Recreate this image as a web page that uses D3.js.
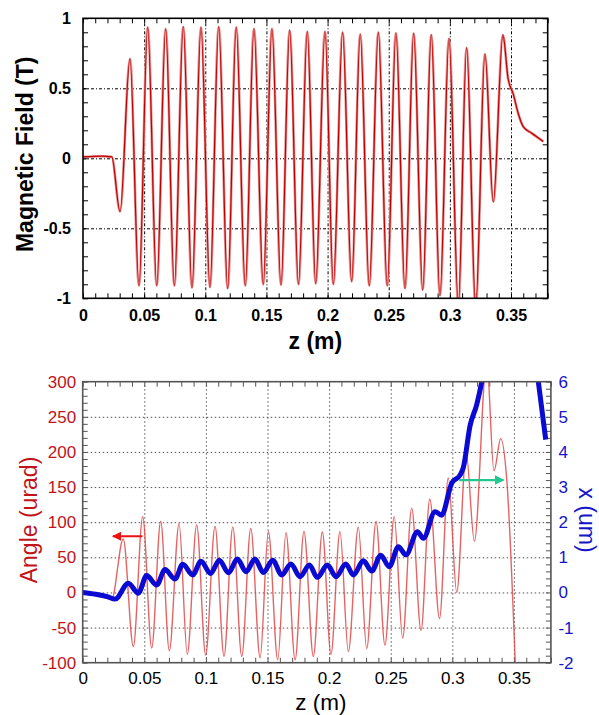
<!DOCTYPE html>
<html>
<head>
<meta charset="utf-8">
<script src="https://cdnjs.cloudflare.com/ajax/libs/d3/7.8.5/d3.min.js"></script>
<style>
  body { margin: 0; background: #fff; }
  svg { display: block; }
  text { font-family: "Liberation Sans", Arial, sans-serif; }
</style>
</head>
<body>
<div id="chart"></div>
<script>
// ---------------- data ----------------
// top panel: magnetic field (T) along z (m), extrema + tail
var fieldZ = [0, 0.015, 0.0235, 0.0303, 0.0384, 0.0458, 0.0529, 0.0603, 0.0676, 0.0747,
  0.0820, 0.0891, 0.0965, 0.1038, 0.1110, 0.1183, 0.1253, 0.1327, 0.1398, 0.1474,
  0.1545, 0.1619, 0.1690, 0.1762, 0.1834, 0.1903, 0.1979, 0.2047, 0.2123, 0.2197,
  0.2267, 0.2341, 0.2415, 0.2488, 0.2559, 0.2633, 0.2704, 0.2778, 0.2848, 0.2919,
  0.2993, 0.3069, 0.3137, 0.3211, 0.3287, 0.3355, 0.3434, 0.3476, 0.3518, 0.3559,
  0.3600, 0.3668, 0.3764];
var fieldB = [0.01, 0.015, 0.01, -0.38, 0.71, -0.91, 0.935, -0.91, 0.925, -0.91,
  0.94, -0.925, 0.935, -0.92, 0.94, -0.93, 0.935, -0.91, 0.925, -0.90,
  0.925, -0.905, 0.915, -0.90, 0.905, -0.895, 0.905, -0.90, 0.90, -0.88,
  0.885, -0.91, 0.90, -0.91, 0.895, -0.93, 0.893, -0.94, 0.883, -0.98,
  0.855, -1.04, 0.79, -1.06, 0.745, -0.31, 0.88, 0.57, 0.46, 0.32,
  0.226, 0.18, 0.12];

// bottom panel: angle (urad), red thin line
var angleZ = [0, 0.012, 0.0235, 0.0329, 0.0411, 0.0487, 0.0560, 0.0633, 0.0703, 0.0782,
  0.0849, 0.0925, 0.0998, 0.1074, 0.1147, 0.1218, 0.1291, 0.1364, 0.1440, 0.1507,
  0.1583, 0.1650, 0.1724, 0.1796, 0.1872, 0.1945, 0.2015, 0.2088, 0.2156, 0.2237,
  0.2305, 0.2381, 0.2453, 0.2528, 0.2597, 0.2670, 0.2746, 0.2817, 0.2896, 0.2967,
  0.3036, 0.3112, 0.3179, 0.3279, 0.3338, 0.3393, 0.3442, 0.3515];
var angleVal = [0, -4, -10, 76, -77, 108, -79, 101, -83, 98,
  -88, 96, -89, 94, -91, 93, -91, 91, -93, 87,
  -96, 85, -96, 87, -91, 86, -88, 87, -84, 93,
  -80, 101, -75, 108, -65, 120, -54, 133, -37, 163,
  0, 198, 73, 330, 173, 219, 160, -120];

// bottom panel: x (um), blue thick line (null = gap, line leaves the frame)
var posZ = [0, 0.0105, 0.02, 0.0263, 0.0370, 0.0452, 0.0519, 0.0600, 0.0668, 0.0749,
  0.0812, 0.0893, 0.0960, 0.1038, 0.1109, 0.1183, 0.1255, 0.1326, 0.1398, 0.1466,
  0.1542, 0.1615, 0.1690, 0.1764, 0.1840, 0.1904, 0.1986, 0.2056, 0.2135, 0.2197,
  0.2278, 0.2346, 0.2419, 0.2488, 0.2562, 0.2624, 0.2717, 0.2765, 0.2860, 0.2912,
  0.2995, 0.3062, 0.3089, 0.3144, 0.3198, 0.3239, 0.3265, 0.35, 0.3687, 0.3758];
var posUm = [0, -0.05, -0.12, -0.19, 0.26, -0.02, 0.48, 0.21, 0.65, 0.38,
  0.80, 0.50, 0.89, 0.54, 0.92, 0.56, 0.95, 0.59, 0.95, 0.57,
  0.92, 0.50, 0.81, 0.45, 0.78, 0.43, 0.78, 0.45, 0.81, 0.50,
  0.90, 0.61, 1.06, 0.73, 1.30, 1.07, 1.73, 1.54, 2.30, 2.20,
  3.11, 3.34, 3.55, 4.75, 5.35, 6.0, 6.5, null, 6.3, 4.35];

var zTicks = [0, 0.05, 0.1, 0.15, 0.2, 0.25, 0.3, 0.35];
var bTicks = [-1, -0.5, 0, 0.5, 1];
var angleTicks = [-100, -50, 0, 50, 100, 150, 200, 250, 300];
var umTicks = [-2, -1, 0, 1, 2, 3, 4, 5, 6];

// annotation arrows: [zFrom, zTo, level]
var redArrow = [0.0485, 0.0245, 80];     // angle axis
var greenArrow = [0.3055, 0.3415, 3.2];  // x axis

var svg = d3.select('#chart').append('svg')
  .attr('width', 599)
  .attr('height', 715);

var defs = svg.append('defs');

function inner(sel) {
  // tick marks only, no domain and no labels
  sel.select('.domain').remove();
  sel.selectAll('text').remove();
  return sel;
}

//////////////////////////////// TOP PANEL ////////////////////////////////
var p1 = { left: 83, top: 18.3, width: 464.7, height: 280 };
var x1 = d3.scaleLinear().domain([0, 0.38]).range([0, p1.width]);
var y1 = d3.scaleLinear().domain([-1, 1]).range([p1.height, 0]);
var g1 = svg.append('g').attr('transform', 'translate(' + p1.left + ',' + p1.top + ')');

defs.append('clipPath').attr('id', 'clip1')
  .append('rect').attr('width', p1.width).attr('height', p1.height);

// grid (dash-dot)
g1.append('g')
  .attr('transform', 'translate(0,' + p1.height + ')')
  .call(d3.axisBottom(x1).tickValues(zTicks.slice(1)).tickSize(-p1.height).tickFormat(''))
  .call(inner)
  .selectAll('line').attr('stroke', '#000').attr('stroke-dasharray', '3,2,1,2');
g1.append('g')
  .call(d3.axisLeft(y1).tickValues([-0.5, 0, 0.5]).tickSize(-p1.width).tickFormat(''))
  .call(inner)
  .selectAll('line').attr('stroke', '#000').attr('stroke-dasharray', '3,2,1,2');

// minor ticks
var zMinor = d3.range(0, 39).map(function (i) { return i / 100; });
var bMinor = d3.range(-10, 11).map(function (i) { return i / 10; });
g1.append('g').attr('transform', 'translate(0,' + p1.height + ')')
  .call(d3.axisBottom(x1).tickValues(zMinor).tickSize(-5)).call(inner);
g1.append('g')
  .call(d3.axisTop(x1).tickValues(zMinor).tickSize(-5)).call(inner);
g1.append('g')
  .call(d3.axisLeft(y1).tickValues(bMinor).tickSize(-5)).call(inner);
g1.append('g').attr('transform', 'translate(' + p1.width + ',0)')
  .call(d3.axisRight(y1).tickValues(bMinor).tickSize(-5)).call(inner);

// labelled axes
var ax1 = g1.append('g').attr('transform', 'translate(0,' + p1.height + ')')
  .call(d3.axisBottom(x1).tickValues(zTicks).tickSize(0).tickPadding(11.5).tickFormat(function (d) { return String(d); }));
var ay1 = g1.append('g')
  .call(d3.axisLeft(y1).tickValues(bTicks).tickSize(0).tickPadding(12).tickFormat(function (d) { return String(d); }));
[ax1, ay1].forEach(function (a) {
  a.select('.domain').remove();
  a.selectAll('text').attr('font-size', 16).attr('font-weight', 'bold').attr('fill', '#000')
    .attr('font-family', '"Liberation Sans", Arial, sans-serif');
});

// field line
var line1 = d3.line()
  .x(function (d) { return x1(d[0]); })
  .y(function (d) { return y1(d[1]); })
  .curve(d3.curveMonotoneX);

g1.append('path')
  .datum(d3.zip(fieldZ, fieldB))
  .attr('clip-path', 'url(#clip1)')
  .attr('fill', 'none')
  .attr('stroke', '#e58a8a')
  .attr('stroke-width', 2.6)
  .attr('d', line1);
g1.append('path')
  .datum(d3.zip(fieldZ, fieldB))
  .attr('clip-path', 'url(#clip1)')
  .attr('fill', 'none')
  .attr('stroke', '#c00000')
  .attr('stroke-width', 1.2)
  .attr('d', line1);

g1.append('rect')
  .attr('width', p1.width).attr('height', p1.height)
  .attr('fill', 'none').attr('stroke', '#000').attr('stroke-width', 1.6);

// titles
svg.append('text')
  .attr('x', p1.left + p1.width / 2).attr('y', 348.5)
  .attr('text-anchor', 'middle')
  .attr('font-size', 23).attr('font-weight', 'bold')
  .text('z (m)');
svg.append('text')
  .attr('transform', 'translate(33,' + (p1.top + p1.height / 2 - 4) + ') rotate(-90)')
  .attr('text-anchor', 'middle')
  .attr('font-size', 23).attr('font-weight', 'bold')
  .text('Magnetic Field (T)');

//////////////////////////////// BOTTOM PANEL ////////////////////////////////
var p2 = { left: 82.7, top: 381.7, width: 468.2, height: 281 };
var x2 = d3.scaleLinear().domain([0, 0.38]).range([0, p2.width]);
var yA = d3.scaleLinear().domain([-100, 300]).range([p2.height, 0]);
var yX = d3.scaleLinear().domain([-2, 6]).range([p2.height, 0]);
var g2 = svg.append('g').attr('transform', 'translate(' + p2.left + ',' + p2.top + ')');

defs.append('clipPath').attr('id', 'clip2')
  .append('rect').attr('width', p2.width).attr('height', p2.height);

var red = '#c0141a', blue = '#1414c8';

// dotted grid
g2.append('g')
  .attr('transform', 'translate(0,' + p2.height + ')')
  .call(d3.axisBottom(x2).tickValues(zTicks.slice(1)).tickSize(-p2.height).tickFormat(''))
  .call(inner)
  .selectAll('line').attr('stroke', '#444').attr('stroke-dasharray', '1.5,2.5');
g2.append('g')
  .call(d3.axisLeft(yA).tickValues(angleTicks.slice(1, -1)).tickSize(-p2.width).tickFormat(''))
  .call(inner)
  .selectAll('line').attr('stroke', '#444').attr('stroke-dasharray', '1.5,2.5');

// minor ticks
var aMinor = d3.range(-10, 31).map(function (i) { return i * 10; });
g2.append('g').attr('transform', 'translate(0,' + p2.height + ')')
  .call(d3.axisBottom(x2).tickValues(zMinor).tickSize(-5)).call(inner);
g2.append('g')
  .call(d3.axisTop(x2).tickValues(zMinor).tickSize(-5)).call(inner);
g2.append('g')
  .call(d3.axisLeft(yA).tickValues(aMinor).tickSize(-5)).call(inner);
g2.append('g').attr('transform', 'translate(' + p2.width + ',0)')
  .call(d3.axisRight(yA).tickValues(aMinor).tickSize(-5)).call(inner);
g2.selectAll('.tick line').attr('stroke', '#555');

// labelled axes
var ax2 = g2.append('g').attr('transform', 'translate(0,' + p2.height + ')')
  .call(d3.axisBottom(x2).tickValues(zTicks).tickSize(0).tickPadding(9.5).tickFormat(function (d) { return String(d); }));
var ayA = g2.append('g')
  .call(d3.axisLeft(yA).tickValues(angleTicks).tickSize(0).tickPadding(6.5).tickFormat(function (d) { return String(d); }));
var ayX = g2.append('g').attr('transform', 'translate(' + p2.width + ',0)')
  .call(d3.axisRight(yX).tickValues(umTicks).tickSize(0).tickPadding(7.5).tickFormat(function (d) { return String(d); }));
[ax2, ayA, ayX].forEach(function (a) {
  a.select('.domain').remove();
  a.selectAll('text').attr('font-size', 17)
    .attr('font-family', '"Liberation Sans", Arial, sans-serif');
});
ax2.selectAll('text').attr('fill', '#000');
ayA.selectAll('text').attr('fill', red);
ayX.selectAll('text').attr('fill', blue);

// angle line (red)
var lineA = d3.line()
  .x(function (d) { return x2(d[0]); })
  .y(function (d) { return yA(d[1]); })
  .curve(d3.curveMonotoneX);
g2.append('path')
  .datum(d3.zip(angleZ, angleVal))
  .attr('clip-path', 'url(#clip2)')
  .attr('fill', 'none')
  .attr('stroke', '#e04848')
  .attr('stroke-opacity', 0.85)
  .attr('stroke-width', 1.4)
  .attr('d', lineA);

// x line (blue)
var lineX = d3.line()
  .defined(function (d) { return d[1] != null; })
  .x(function (d) { return x2(d[0]); })
  .y(function (d) { return yX(d[1]); })
  .curve(d3.curveMonotoneX);
g2.append('path')
  .datum(d3.zip(posZ, posUm))
  .attr('clip-path', 'url(#clip2)')
  .attr('fill', 'none')
  .attr('stroke', '#0a0ad2')
  .attr('stroke-width', 5)
  .attr('stroke-linejoin', 'round')
  .attr('d', lineX);

// arrows
function arrowHead(id, color) {
  defs.append('marker')
    .attr('id', id)
    .attr('viewBox', '0 0 10 10')
    .attr('refX', 9).attr('refY', 5)
    .attr('markerWidth', 4.5).attr('markerHeight', 4.5)
    .attr('markerUnits', 'strokeWidth')
    .attr('orient', 'auto')
    .append('path').attr('d', 'M0,0 L10,5 L0,10 z').attr('fill', color);
}
arrowHead('headRed', '#ee1111');
arrowHead('headGreen', '#22c890');

g2.append('line')
  .attr('x1', x2(redArrow[0])).attr('x2', x2(redArrow[1]))
  .attr('y1', yA(redArrow[2])).attr('y2', yA(redArrow[2]))
  .attr('stroke', '#ee1111').attr('stroke-width', 2)
  .attr('marker-end', 'url(#headRed)');
g2.append('line')
  .attr('x1', x2(greenArrow[0])).attr('x2', x2(greenArrow[1]))
  .attr('y1', yX(greenArrow[2])).attr('y2', yX(greenArrow[2]))
  .attr('stroke', '#22c890').attr('stroke-width', 2.2)
  .attr('marker-end', 'url(#headGreen)');

g2.append('rect')
  .attr('width', p2.width).attr('height', p2.height)
  .attr('fill', 'none').attr('stroke', '#555').attr('stroke-width', 1.6);

// titles
svg.append('text')
  .attr('x', p2.left + p2.width / 2 + 4).attr('y', 709.5)
  .attr('text-anchor', 'middle')
  .attr('font-size', 22.5).attr('fill', '#000')
  .text('z (m)');
svg.append('text')
  .attr('transform', 'translate(37,' + 520 + ') rotate(-90)')
  .attr('text-anchor', 'middle')
  .attr('font-size', 23).attr('fill', red)
  .text('Angle (urad)');
svg.append('text')
  .attr('transform', 'translate(579,' + 520 + ') rotate(90)')
  .attr('text-anchor', 'middle')
  .attr('font-size', 23).attr('fill', blue)
  .text('x (um)');
</script>
</body>
</html>
